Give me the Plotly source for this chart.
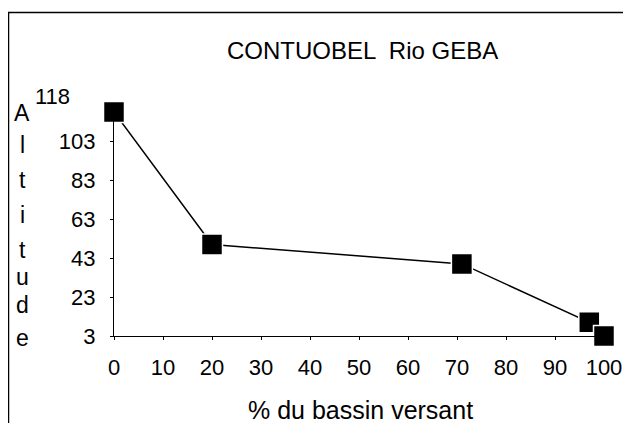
import plotly.graph_objects as go

# Data
pct_bassin = [0, 20, 71, 97, 100]
altitude = [118, 50, 40, 10, 3]
x_ticks = [0, 10, 20, 30, 40, 50, 60, 70, 80, 90, 100]
y_ticks = [3, 23, 43, 63, 83, 103]
title_text = "CONTUOBEL  Rio GEBA"
x_title = "% du bassin versant"
y_title_letters = ["A", "l", "t", "i", "t", "u", "d", "e"]
y_max_label = "118"

OFF = 8  # default page body margin
W, H = 631 - 2 * OFF, 431 - 2 * OFF  # keep page free of scrollbars
L, T = 114 - OFF, 112 - OFF
R = W - (604 - OFF)
B = H - (336 - OFF)
PW, PH = W - L - R, H - T - B

def px(xp):
    return (xp - OFF - L) / PW

def py(yp):
    return (H - B - (yp - OFF)) / PH

FONT = "Liberation Sans, Arial, Helvetica, sans-serif"

fig = go.Figure()
fig.add_trace(go.Scatter(
    x=pct_bassin, y=altitude, mode="lines+markers",
    line=dict(color="black", width=1.5),
    marker=dict(symbol="square", size=21, color="black",
                line=dict(color="white", width=1.5)),
    cliponaxis=False, showlegend=False,
))

fig.update_layout(
    width=W, height=H, autosize=False,
    margin=dict(l=L, r=R, t=T, b=B, pad=0, autoexpand=False),
    paper_bgcolor="white", plot_bgcolor="white",
    font=dict(family=FONT, color="black", size=22),
    xaxis=dict(range=[0, 100], tickvals=x_ticks, ticktext=[str(v) for v in x_ticks],
               showline=True, linecolor="black", linewidth=1.2,
               ticks="outside", ticklen=3, tickcolor="black",
               showgrid=False, zeroline=False, ticklabelstandoff=8,
               automargin=False, tickfont=dict(size=22)),
    yaxis=dict(range=[3, 118], tickvals=y_ticks, ticktext=[str(v) for v in y_ticks],
               showline=True, linecolor="black", linewidth=1.2,
               ticks="outside", ticklen=3, tickcolor="black",
               showgrid=False, zeroline=False, ticklabelstandoff=10,
               automargin=False, tickfont=dict(size=22)),
)

annotations = [
    dict(text=title_text, x=px(362), y=py(50), xref="paper", yref="paper",
         showarrow=False, font=dict(size=24), xanchor="center", yanchor="middle"),
    dict(text=x_title, x=px(360), y=py(410), xref="paper", yref="paper",
         showarrow=False, font=dict(size=25), xanchor="center", yanchor="middle"),
    dict(text=y_max_label, x=px(52), y=py(97), xref="paper", yref="paper",
         showarrow=False, font=dict(size=22), xanchor="center", yanchor="middle"),
]
letter_y = [113, 145, 180, 215, 250, 277, 305, 338]
for ch, ly in zip(y_title_letters, letter_y):
    annotations.append(dict(text=ch, x=px(22), y=py(ly), xref="paper", yref="paper",
                            showarrow=False, font=dict(size=23),
                            xanchor="center", yanchor="middle"))
fig.update_layout(annotations=annotations)

fig.add_shape(type="line", xref="paper", yref="paper",
              x0=px(8.5), x1=px(8.5), y0=py(12), y1=py(431), line=dict(color="black", width=1.5))
fig.add_shape(type="line", xref="paper", yref="paper",
              x0=px(8), x1=px(631), y0=py(12.5), y1=py(12.5), line=dict(color="black", width=1.5))

fig.write_html("out.html")
